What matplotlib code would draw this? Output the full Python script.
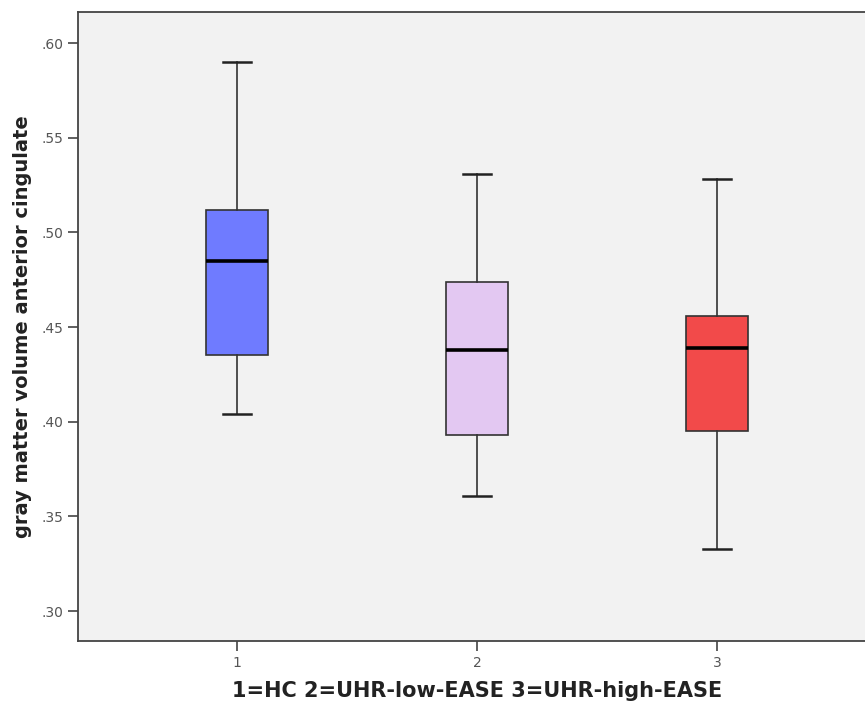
import numpy as np
import matplotlib
matplotlib.use("Agg")
import matplotlib.pyplot as plt


groups = [1, 2, 3]
whisker_low = [0.404, 0.361, 0.333]
q1 = [0.435, 0.393, 0.395]
medians = [0.485, 0.438, 0.439]
q3 = [0.512, 0.474, 0.456]
whisker_high = [0.590, 0.531, 0.528]

box_colors = ["#6f7bff", "#e3c8f2", "#f24a4a"]

y_ticks = [0.30, 0.35, 0.40, 0.45, 0.50, 0.55, 0.60]
y_tick_labels = [".30", ".35", ".40", ".45", ".50", ".55", ".60"]


stats = []
for i in range(len(groups)):
    stats.append({
        "whislo": whisker_low[i],
        "q1": q1[i],
        "med": medians[i],
        "q3": q3[i],
        "whishi": whisker_high[i],
        "label": str(groups[i]),
    })


fig = plt.figure(figsize=(8.65, 7.08), dpi=100)

ax = fig.add_axes([78 / 865, 1 - 641 / 708, 798 / 865, 629 / 708])
ax.set_facecolor("#f2f2f2")

bp = ax.bxp(
    stats,
    positions=groups,
    widths=0.255,
    patch_artist=True,
    showfliers=False,
    boxprops=dict(edgecolor="#333333", linewidth=1.2),
    medianprops=dict(color="black", linewidth=2.6),
    whiskerprops=dict(color="#333333", linewidth=1.2),
    capprops=dict(color="#222222", linewidth=1.8),
    capwidths=0.12,
)

for patch, c in zip(bp["boxes"], box_colors):
    patch.set_facecolor(c)

ax.set_xlim(0.3375, 3.6625)
ax.set_ylim(0.2842, 0.6164)

ax.set_yticks(y_ticks)
ax.set_yticklabels(y_tick_labels)
ax.set_xticks(groups)
ax.set_xticklabels([str(g) for g in groups])

ax.tick_params(axis="both", colors="#444444", labelcolor="#555555",
               labelsize=10, length=7, width=1.2)

for side in ["left", "bottom", "top"]:
    ax.spines[side].set_color("#444444")
    ax.spines[side].set_linewidth(1.3)
ax.spines["right"].set_visible(False)

ax.set_ylabel("gray matter volume anterior cingulate",
              fontsize=14, fontweight="bold", color="#222222", labelpad=7)
ax.set_xlabel("1=HC 2=UHR-low-EASE 3=UHR-high-EASE",
              fontsize=15, fontweight="bold", color="#222222", labelpad=8)

fig.savefig("out.png", dpi=100)
